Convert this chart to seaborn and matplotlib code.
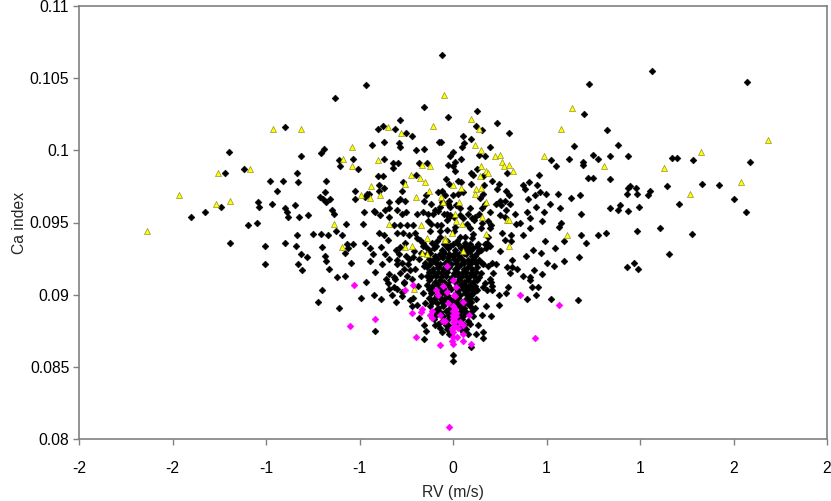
import matplotlib
matplotlib.use("Agg")
import matplotlib.pyplot as plt
import seaborn as sns
import pandas as pd
from matplotlib.ticker import FixedLocator, FixedFormatter

# ---------------- data ----------------
x_ticks = [-2.0, -1.5, -1.0, -0.5, 0.0, 0.5, 1.0, 1.5, 2.0]
x_tick_labels = ['-2', '-2', '-1', '-1', '0', '1', '1', '2', '2']
y_ticks = [0.08, 0.085, 0.09, 0.095, 0.10, 0.105, 0.11]
y_tick_labels = ['0.08', '0.085', '0.09', '0.095', '0.1', '0.105', '0.11']

black_pts = [
    # outer left
    (-1.198,0.0999),(-1.219,0.0984),(-1.119,0.0987),(-1.041,0.0964),(-1.036,0.0961),(-1.241,0.0961),
    (-1.328,0.0957),(-1.401,0.0954),(-1.095,0.0948),(-1.048,0.0950),(-1.194,0.0936),(-1.007,0.0934),(-1.007,0.0921),
    # upper left / centre
    (-0.057,0.1066),(-0.464,0.1045),(-0.633,0.1036),(-0.155,0.1030),(-0.027,0.1023),(-0.285,0.1021),(-0.900,0.1016),
    (-0.401,0.1015),(-0.374,0.1017),(-0.309,0.1015),(-0.251,0.1012),(-0.219,0.1010),(-0.369,0.1006),(-0.432,0.1004),
    (-0.287,0.1005),(-0.283,0.1002),(-0.155,0.1001),(-0.198,0.1000),(-0.076,0.1006),(-0.064,0.1006),(-0.688,0.1001),
    (-0.707,0.0998),(-0.813,0.0996),(-0.536,0.0994),(-0.610,0.0993),(-0.603,0.0989),(-0.508,0.0987),(-0.367,0.0994),
    (-0.319,0.0991),(-0.293,0.0991),(-0.319,0.0988),(-0.180,0.0991),(-0.137,0.0991),(-0.027,0.0990),(-0.833,0.0984),
    (-0.979,0.0979),(-0.907,0.0979),(-0.830,0.0978),(-0.943,0.0972),(-0.679,0.0979),(-0.401,0.0982),(-0.373,0.0982),
    (-0.269,0.0978),(-0.199,0.0983),(-0.037,0.0980),(-0.023,0.0977),(-0.394,0.0976),(-0.369,0.0974),(-0.394,0.0972),
    (-0.526,0.0972),(-0.461,0.0970),(-0.449,0.0970),(-0.471,0.0968),(-0.522,0.0966),(-0.710,0.0968),(-0.684,0.0971),
    (-0.694,0.0966),(-0.679,0.0964),(-0.658,0.0966),(-0.645,0.0959),(-0.638,0.0956),(-0.968,0.0963),(-0.847,0.0962),
    (-0.897,0.0960),(-0.888,0.0957),(-0.882,0.0954),(-0.822,0.0954),(-0.777,0.0955),(-0.476,0.0957),(-0.417,0.0957),
    (-0.389,0.0955),(-0.344,0.0964),(-0.342,0.0960),(-0.344,0.0954),(-0.293,0.0965),(-0.283,0.0966),(-0.255,0.0965),
    (-0.301,0.0959),(-0.273,0.0956),(-0.253,0.0957),(-0.274,0.0972),(-0.153,0.0965),(-0.146,0.0969),(-0.118,0.0963),
    (-0.132,0.0956),(-0.105,0.0956),(-0.096,0.0959),(-0.070,0.0961),(-0.059,0.0964),(-0.060,0.0972),(-0.082,0.0971),
    (-0.041,0.0969),(-0.028,0.0963),(-0.020,0.0965),(-0.034,0.0956),(-0.023,0.0954),
    # upper right of centre
    (0.729,0.1046),(0.128,0.1027),(0.702,0.1025),(0.123,0.1017),(0.153,0.1014),(0.234,0.1019),(0.301,0.1012),
    (0.822,0.1014),(0.053,0.1010),(0.060,0.1005),(0.095,0.1008),(0.050,0.1002),(0.002,0.0999),(-0.016,0.0996),
    (0.011,0.0992),(0.043,0.0994),(0.002,0.0989),(0.011,0.0986),(0.171,0.0996),(0.141,0.0997),(0.198,0.1002),
    (0.649,0.1003),(0.881,0.1004),(0.750,0.0997),(0.774,0.0994),(0.840,0.0996),(0.937,0.0996),(0.526,0.0993),
    (0.552,0.0989),(0.619,0.0994),(0.697,0.0992),(0.697,0.0990),(0.724,0.0981),(0.747,0.0981),(0.841,0.0980),
    (0.460,0.0983),(0.373,0.0976),(0.405,0.0978),(0.385,0.0973),(0.449,0.0976),(0.465,0.0971),(0.440,0.0969),
    (0.399,0.0966),(0.499,0.0970),(0.519,0.0963),(0.560,0.0970),(0.631,0.0967),(0.679,0.0969),(0.937,0.0974),
    (0.930,0.0970),(0.841,0.0960),(0.893,0.0962),(0.881,0.0959),(0.937,0.0958),(0.686,0.0956),(0.574,0.0960),
    (0.488,0.0957),(0.397,0.0957),(0.445,0.0961),(0.333,0.0956),(0.289,0.0984),(0.210,0.0979),(0.248,0.0977),
    (0.237,0.0973),(0.285,0.0972),(0.301,0.0969),(0.230,0.0963),(0.250,0.0965),(0.257,0.0962),(0.278,0.0965),
    (0.306,0.0963),(0.282,0.0959),(0.251,0.0955),(0.278,0.0954),(0.095,0.0984),(0.109,0.0983),(0.128,0.0987),
    (0.162,0.0982),(0.167,0.0976),(0.095,0.0977),(0.144,0.0967),(0.162,0.0970),(0.171,0.0963),(0.153,0.0960),
    (0.137,0.0956),(0.116,0.0954),(0.198,0.0957),(0.093,0.0960),(0.082,0.0956),(0.037,0.0960),(0.016,0.0962),
    (-0.016,0.0961),(-0.002,0.0969),(0.027,0.0970),(0.055,0.0971),(0.041,0.0978),(0.027,0.0979),(0.007,0.0954),
    (-0.016,0.0955),(-0.047,0.0956),
    # far right
    (1.063,0.1055),(1.572,0.1047),(1.170,0.0995),(1.200,0.0995),(1.282,0.0993),(1.590,0.0992),(0.948,0.0975),
    (0.979,0.0974),(0.982,0.0970),(1.055,0.0972),(1.043,0.0969),(1.146,0.0975),(1.332,0.0977),(1.424,0.0976),
    (1.504,0.0966),(1.209,0.0963),(0.996,0.0961),(1.568,0.0957),(0.986,0.0944),(1.109,0.0946),(1.276,0.0942),
    (1.157,0.0928),(0.929,0.0919),(0.970,0.0922),(0.991,0.0918),
    # lower left of centre
    (-0.898,0.0936),(-0.836,0.0941),(-0.840,0.0934),(-0.811,0.0928),(-0.782,0.0926),(-0.830,0.0921),(-0.807,0.0917),
    (-0.747,0.0942),(-0.704,0.0942),(-0.670,0.0941),(-0.701,0.0933),(-0.684,0.0927),(-0.681,0.0923),(-0.665,0.0918),
    (-0.622,0.0912),(-0.592,0.0941),(-0.626,0.0944),(-0.579,0.0913),(-0.701,0.0903),(-0.724,0.0895),(-0.608,0.0891),
    (-0.568,0.0935),(-0.560,0.0932),(-0.535,0.0935),(-0.578,0.0929),(-0.545,0.0922),(-0.574,0.0949),(-0.483,0.0949),
    (-0.464,0.0909),(-0.494,0.0898),(-0.421,0.0900),(-0.387,0.0897),(-0.416,0.0875),(-0.471,0.0936),(-0.445,0.0932),
    (-0.444,0.0923),(-0.426,0.0928),(-0.419,0.0916),(-0.396,0.0943),(-0.369,0.0941),(-0.346,0.0938),(-0.387,0.0933),
    (-0.362,0.0928),(-0.341,0.0925),(-0.378,0.0921),(-0.360,0.0911),(-0.344,0.0914),(-0.317,0.0912),(-0.341,0.0904),
    (-0.325,0.0900),(-0.317,0.0905),(-0.346,0.0908),(-0.303,0.0895),(-0.421,0.0958),(-0.364,0.0959),(-0.314,0.0948),
    (-0.283,0.0948),(-0.298,0.0943),(-0.269,0.0943),(-0.246,0.0948),(-0.212,0.0948),(-0.255,0.0936),(-0.283,0.0933),
    (-0.306,0.0931),(-0.289,0.0928),(-0.299,0.0924),(-0.273,0.0922),(-0.262,0.0918),(-0.237,0.0941),(-0.205,0.0943),
    (-0.194,0.0939),(-0.237,0.0925),(-0.214,0.0926),(-0.232,0.0917),(-0.245,0.0913),(-0.264,0.0908),(-0.271,0.0902),
    (-0.298,0.0904),(-0.194,0.0956),(-0.162,0.0957),(-0.079,0.0958),(-0.132,0.0951),(-0.119,0.0949),(-0.087,0.0948),
    (-0.034,0.0952),(-0.071,0.0944),(-0.123,0.0944),(-0.176,0.0938),(-0.160,0.0936),(-0.144,0.0933),(-0.111,0.0936),
    (-0.087,0.0937),(-0.070,0.0940),(-0.034,0.0937),(-0.025,0.0933),(-0.221,0.0892),(-0.212,0.0898),(-0.153,0.0879),
    (-0.146,0.0875),(-0.157,0.0869),(-0.180,0.0884),(-0.095,0.0879),(-0.027,0.0879),(-0.023,0.0873),
    # lower right of centre
    (0.576,0.0950),(0.565,0.0947),(0.474,0.0951),(0.412,0.0953),(0.412,0.0946),(0.360,0.0950),(0.335,0.0949),
    (0.373,0.0941),(0.310,0.0941),(0.260,0.0943),(0.280,0.0938),(0.310,0.0937),(0.494,0.0937),(0.545,0.0932),
    (0.592,0.0937),(0.683,0.0941),(0.710,0.0936),(0.777,0.0941),(0.820,0.0943),(0.674,0.0926),(0.595,0.0923),
    (0.504,0.0922),(0.542,0.0920),(0.471,0.0929),(0.429,0.0931),(0.435,0.0917),(0.390,0.0927),(0.478,0.0914),
    (0.373,0.0913),(0.412,0.0912),(0.412,0.0910),(0.344,0.0918),(0.314,0.0919),(0.289,0.0919),(0.305,0.0915),
    (0.317,0.0924),(0.251,0.0930),(0.421,0.0905),(0.455,0.0905),(0.445,0.0900),(0.394,0.0897),(0.526,0.0897),
    (0.670,0.0896),(0.293,0.0905),(0.282,0.0901),(0.244,0.0900),(0.207,0.0903),(0.205,0.0909),(0.248,0.0893),
    (0.203,0.0885),(0.176,0.0892),(0.157,0.0886),(0.134,0.0879),(0.162,0.0874),(0.160,0.0870),(0.121,0.0873),
    (0.095,0.0864),(0.000,0.0858),(0.000,0.0854),(0.114,0.0952),(0.189,0.0951),(0.203,0.0948),(0.155,0.0950),
    (0.148,0.0946),(0.198,0.0946),(0.189,0.0940),(0.180,0.0936),(0.134,0.0935),(0.150,0.0931),(0.127,0.0929),
    (0.100,0.0927),(0.105,0.0923),(0.153,0.0922),(0.186,0.0920),(0.207,0.0922),(0.230,0.0921),(0.216,0.0915),
    (0.198,0.0911),(0.171,0.0908),(0.159,0.0905),(0.121,0.0904),(0.095,0.0900),(0.073,0.0897),(0.064,0.0895),
    (0.055,0.0893),(0.207,0.0906),(0.180,0.0903),(-0.064,0.0948),(-0.034,0.0945),(0.011,0.0947),(0.005,0.0944),
    (0.037,0.0940),(0.064,0.0940),(0.064,0.0936),(0.023,0.0937),(0.002,0.0935),(-0.048,0.0929),(-0.052,0.0926),
    (-0.025,0.0926),(0.002,0.0927),(0.034,0.0928),(0.060,0.0929),(0.082,0.0933),(0.100,0.0939),(0.109,0.0942),
    (0.091,0.0946),(0.073,0.0949),(0.055,0.0953),(0.037,0.0955),(0.100,0.0953),
    # core fringe
    (-0.300,0.0921),(-0.281,0.0915),(-0.262,0.0909),(-0.243,0.0921),(-0.219,0.0911),(-0.201,0.0918),(-0.188,0.0906),
    (-0.181,0.0925),(-0.171,0.0913),(-0.162,0.0901),(-0.154,0.0920),(-0.149,0.0894),(-0.272,0.0899),(-0.232,0.0896),
    (-0.191,0.0893),(-0.172,0.0929),(-0.163,0.0934),(-0.251,0.0927),(-0.211,0.0930),(-0.309,0.0911),
    # dense core
    (-0.138,0.0928),(-0.121,0.0929),(-0.098,0.0927),(-0.072,0.0928),(-0.051,0.0930),(-0.019,0.0928),(0.012,0.0929),
    (0.031,0.0927),(0.068,0.0928),(0.091,0.0930),(0.118,0.0927),
    (-0.131,0.0925),(-0.108,0.0924),(-0.083,0.0925),(-0.061,0.0926),(-0.029,0.0924),(0.004,0.0925),(0.021,0.0924),
    (0.049,0.0925),(0.081,0.0924),(0.108,0.0925),(0.139,0.0924),
    (-0.149,0.0922),(-0.121,0.0921),(-0.092,0.0922),(-0.068,0.0921),(-0.041,0.0922),(-0.012,0.0921),(0.018,0.0922),
    (0.042,0.0921),(0.061,0.0922),(0.089,0.0921),(0.121,0.0922),(0.158,0.0921),
    (-0.141,0.0919),(-0.109,0.0918),(-0.081,0.0919),(-0.052,0.0918),(-0.021,0.0919),(0.011,0.0918),(0.029,0.0919),
    (0.058,0.0918),(0.082,0.0919),(0.102,0.0918),(0.131,0.0919),
    (-0.129,0.0916),(-0.101,0.0915),(-0.078,0.0916),(-0.059,0.0915),(-0.031,0.0916),(0.003,0.0915),(0.022,0.0916),
    (0.048,0.0915),(0.071,0.0916),(0.098,0.0915),(0.122,0.0916),(0.148,0.0915),
    (-0.138,0.0913),(-0.118,0.0912),(-0.089,0.0913),(-0.062,0.0912),(-0.039,0.0913),(-0.008,0.0912),(0.028,0.0913),
    (0.041,0.0912),(0.069,0.0913),(0.088,0.0912),(0.112,0.0913),(0.139,0.0912),
    (-0.128,0.0910),(-0.098,0.0909),(-0.071,0.0910),(-0.048,0.0909),(-0.018,0.0910),(0.012,0.0909),(0.031,0.0910),
    (0.061,0.0909),(0.079,0.0910),(0.108,0.0909),(0.129,0.0910),
    (-0.139,0.0907),(-0.111,0.0906),(-0.082,0.0907),(-0.058,0.0906),(-0.028,0.0907),(0.019,0.0906),(0.041,0.0907),
    (0.068,0.0906),(0.092,0.0907),(0.118,0.0906),
    (-0.131,0.0904),(-0.099,0.0903),(-0.069,0.0904),(-0.041,0.0903),(-0.011,0.0904),(0.028,0.0903),(0.051,0.0904),
    (0.079,0.0903),(0.101,0.0904),(0.129,0.0903),
    (-0.119,0.0901),(-0.088,0.0900),(-0.061,0.0901),(-0.032,0.0900),(0.018,0.0901),(0.039,0.0900),(0.062,0.0901),
    (0.088,0.0900),(0.109,0.0901),
    (-0.128,0.0898),(-0.101,0.0897),(-0.071,0.0898),(-0.049,0.0897),(-0.021,0.0898),(0.011,0.0897),(0.029,0.0898),
    (0.069,0.0897),(0.091,0.0898),(0.121,0.0897),
    (-0.111,0.0895),(-0.088,0.0894),(-0.058,0.0895),(-0.041,0.0894),(-0.012,0.0895),(0.021,0.0894),(0.049,0.0895),
    (0.081,0.0894),(0.098,0.0895),
    (-0.121,0.0892),(-0.079,0.0891),(-0.052,0.0892),(-0.018,0.0891),(0.031,0.0892),(0.058,0.0891),(0.089,0.0892),
    (0.118,0.0891),
    (-0.098,0.0889),(-0.069,0.0888),(-0.039,0.0889),(-0.011,0.0888),(0.041,0.0889),(0.071,0.0888),(0.102,0.0889),
    (-0.089,0.0886),(-0.051,0.0885),(-0.019,0.0886),(0.031,0.0885),(0.061,0.0886),(0.109,0.0885),
    (-0.102,0.0883),(-0.061,0.0882),(-0.029,0.0883),(0.021,0.0882),(0.048,0.0883),(0.079,0.0882),
    (-0.081,0.0880),(-0.039,0.0879),(0.012,0.0880),(0.058,0.0879),(0.091,0.0880),
    (-0.069,0.0877),(-0.031,0.0876),(0.039,0.0877),(0.071,0.0876),
    (-0.058,0.0874),(-0.011,0.0873),(0.052,0.0874),(0.081,0.0873),
    (-0.129,0.0931),(-0.101,0.0932),(-0.061,0.0931),(-0.028,0.0932),(0.009,0.0931),(0.042,0.0932),(0.071,0.0931),
    (0.109,0.0932),(0.141,0.0931),(0.178,0.0932),
    (-0.091,0.0934),(-0.049,0.0935),(-0.018,0.0934),(0.029,0.0935),(0.058,0.0934),(0.091,0.0935),(0.128,0.0934),
    (0.171,0.0935),(0.199,0.0934),
]

yellow_pts = [
    (-1.635,0.0944),(-1.467,0.0969),(-1.269,0.0963),(-1.193,0.0965),(-1.257,0.0984),(-1.087,0.0987),(-0.961,0.1015),
    (-0.813,0.1015),(-0.047,0.1038),(-0.107,0.1017),(-0.348,0.1016),(-0.278,0.1012),(-0.542,0.1002),(-0.587,0.0994),
    (-0.542,0.0989),(-0.403,0.0993),(-0.166,0.0990),(-0.121,0.0989),(-0.226,0.0983),(-0.178,0.0981),(-0.255,0.0977),
    (-0.151,0.0978),(-0.440,0.0975),(-0.128,0.0972),(-0.494,0.0969),(-0.444,0.0967),(-0.390,0.0969),(-0.196,0.0968),
    (-0.064,0.0968),(-0.052,0.0964),(0.098,0.1022),(0.139,0.1015),(0.635,0.1029),(0.579,0.1015),(0.116,0.1004),
    (0.148,0.1000),(0.226,0.0996),(0.253,0.0997),(0.260,0.0992),(0.273,0.0989),(0.299,0.0990),(0.322,0.0986),
    (0.178,0.0986),(0.189,0.0984),(0.148,0.0989),(0.144,0.0982),(0.488,0.0996),(0.809,0.0989),(0.000,0.0976),
    (0.043,0.0974),(0.121,0.0973),(0.148,0.0974),(0.118,0.0970),(0.030,0.0964),(0.175,0.0964),(0.011,0.0956),
    (0.155,0.0954),(0.287,0.0952),(0.301,0.0952),(1.686,0.1007),(1.328,0.0999),(1.130,0.0988),(1.542,0.0978),
    (1.269,0.0970),(-0.636,0.0949),(-0.592,0.0933),(-0.344,0.0949),(-0.257,0.0933),(-0.221,0.0934),(-0.171,0.0948),
    (-0.137,0.0939),(-0.164,0.0929),(-0.137,0.0928),(-0.041,0.0939),(-0.210,0.0904),(0.014,0.0951),(0.048,0.0949),
    (-0.007,0.0943),(-0.043,0.0938),(0.055,0.0930),(0.176,0.0942),(0.301,0.0934),(0.611,0.0941),
]

magenta_pts = [
    (-0.528,0.0907),(-0.417,0.0883),(-0.552,0.0878),(-0.257,0.0903),(-0.216,0.0907),(-0.166,0.0890),(-0.169,0.0888),
    (-0.218,0.0887),(-0.123,0.0886),(-0.112,0.0884),(-0.111,0.0889),(-0.093,0.0903),(-0.079,0.0900),(-0.055,0.0906),
    (-0.032,0.0902),(-0.068,0.0886),(-0.055,0.0882),(-0.041,0.0882),(-0.034,0.0920),(-0.028,0.0894),(-0.198,0.0871),
    (-0.067,0.0865),(-0.019,0.0808),(-0.002,0.0910),(0.016,0.0905),(0.005,0.0900),(0.012,0.0899),(0.052,0.0895),
    (0.002,0.0892),(0.011,0.0890),(-0.002,0.0889),(0.016,0.0887),(0.084,0.0886),(0.002,0.0884),(-0.002,0.0881),
    (0.037,0.0881),(0.011,0.0878),(-0.007,0.0876),(0.002,0.0874),(0.052,0.0873),(0.002,0.0871),(-0.007,0.0868),
    (0.002,0.0866),(0.052,0.0868),(0.095,0.0866),(0.358,0.0900),(0.565,0.0893),(0.437,0.0870),(0.028,0.0877),
    (0.052,0.0879),(-0.002,0.0877),(0.023,0.0871),(0.011,0.0882),(0.011,0.0888),(-0.002,0.0886),(0.016,0.0885),
]

black = pd.DataFrame(black_pts, columns=["rv", "ca"])
yellow = pd.DataFrame(yellow_pts, columns=["rv", "ca"])
magenta = pd.DataFrame(magenta_pts, columns=["rv", "ca"])

# ---------------- figure ----------------
sns.set_theme(style="white")
plt.rcParams['font.family'] = ['Liberation Sans', 'DejaVu Sans']

fig = plt.figure(figsize=(8.31, 5.01), dpi=100)
ax = fig.add_axes([79/831, 1 - 439/501, 748/831, 433/501])

sns.scatterplot(data=black, x="rv", y="ca", ax=ax, marker="D", s=12,
                color="black", edgecolor="black", linewidth=0.4, zorder=2)
sns.scatterplot(data=yellow, x="rv", y="ca", ax=ax, marker="^", s=19,
                color="#FFFF00", edgecolor="#7A7A20", linewidth=0.4, zorder=3)
sns.scatterplot(data=magenta, x="rv", y="ca", ax=ax, marker="D", s=12,
                color="#FF00FF", edgecolor="#FF00FF", linewidth=0.4, zorder=4)

ax.set_xlim(-2, 2)
ax.set_ylim(0.08, 0.11)
ax.xaxis.set_major_locator(FixedLocator(x_ticks))
ax.xaxis.set_major_formatter(FixedFormatter(x_tick_labels))
ax.yaxis.set_major_locator(FixedLocator(y_ticks))
ax.yaxis.set_major_formatter(FixedFormatter(y_tick_labels))

for sp in ax.spines.values():
    sp.set_visible(True)
    sp.set_color("#808080")
    sp.set_linewidth(1.2)

ax.tick_params(axis="both", which="major", direction="out", length=4, width=1,
               color="#808080", labelsize=11.3, labelcolor="black")
ax.tick_params(axis="x", pad=12, bottom=True)
ax.tick_params(axis="y", pad=3, left=True)

ax.set_xlabel("RV (m/s)", fontsize=11.3, labelpad=6)
ax.set_ylabel("Ca index", fontsize=11.3, labelpad=2)
ax.grid(False)

fig.savefig("out.png", dpi=100)
